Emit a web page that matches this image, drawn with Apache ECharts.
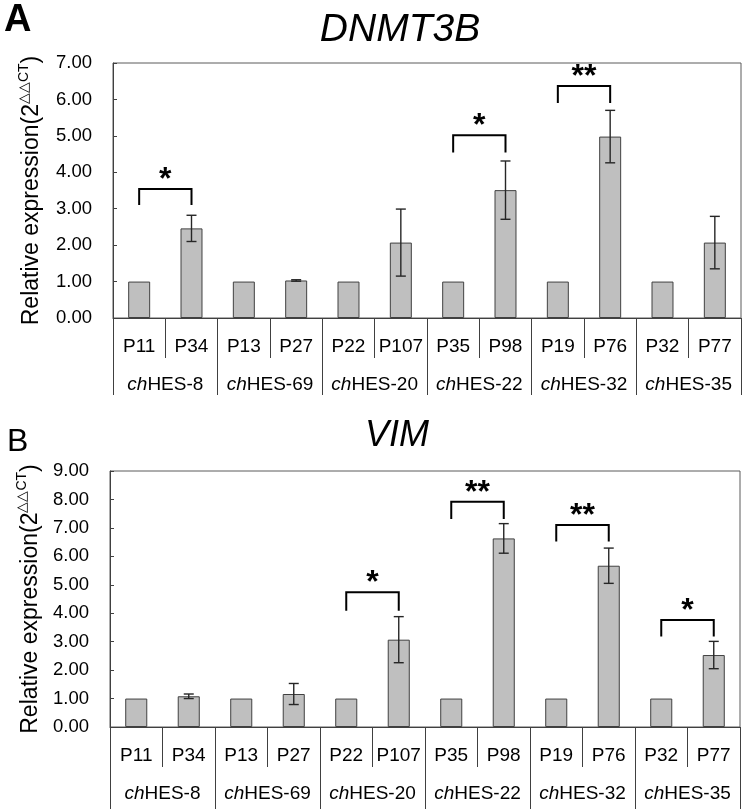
<!DOCTYPE html>
<html>
<head>
<meta charset="utf-8">
<script src="https://cdn.jsdelivr.net/npm/echarts@6/dist/echarts.min.js"></script>
<style>
html,body{margin:0;padding:0;background:#fff;}
#chart{width:746px;height:809px;}
</style>
</head>
<body>
<div id="chart"></div>
<script>
// ---- data ----
var samples = ['P11','P34','P13','P27','P22','P107','P35','P98','P19','P76','P32','P77'];
var groups = ['chHES-8','chHES-69','chHES-20','chHES-22','chHES-32','chHES-35'];

var dnmt3bMean = [1, 2.46, 1, 1.03, 1, 2.07, 1, 3.51, 1, 4.98, 1, 2.07];
var dnmt3bErr  = [0, 0.36, 0, 0.02, 0, 0.92, 0, 0.80, 0, 0.72, 0, 0.72];
var dnmt3bTicks = [0, 7, 1];
// [left sample index, right sample index, bracket top value, leg bottom value, stars]
var dnmt3bSig = [[0, 1, 3.54, 3.10, '*'], [6, 7, 5.02, 4.54, '*'], [8, 9, 6.37, 5.90, '**']];

var vimMean = [1, 1.08, 1, 1.16, 1, 3.07, 1, 6.63, 1, 5.67, 1, 2.53];
var vimErr  = [0, 0.08, 0, 0.37, 0, 0.81, 0, 0.52, 0, 0.62, 0, 0.48];
var vimTicks = [0, 9, 1];
var vimSig = [[4, 5, 4.74, 4.09, '*'], [6, 7, 7.92, 7.31, '**'], [8, 9, 7.10, 6.52, '**'], [10, 11, 3.76, 3.18, '*']];

// ---- styles ----
var FONT = '"Liberation Sans", Arial, sans-serif';
var AX = '#404040';
var FRAME = '#5a5a5a';

var chart = echarts.init(document.getElementById('chart'), null, {renderer: 'canvas'});

function xAxes(gi, groupTickLen) {
  return [{
    type: 'category', gridIndex: gi, data: samples, position: 'bottom',
    axisLine: {show: true, lineStyle: {color: AX, width: 1}},
    axisTick: {show: true, inside: false, length: 40, interval: 0, lineStyle: {color: AX, width: 1}},
    axisLabel: {interval: 0, margin: 19, fontSize: 19, color: '#000', fontFamily: FONT},
    splitLine: {show: false}
  }, {
    type: 'category', gridIndex: gi, data: groups, position: 'bottom', offset: 0,
    axisLine: {show: false},
    axisTick: {show: true, inside: false, length: groupTickLen, interval: 0, lineStyle: {color: AX, width: 1}},
    axisLabel: {interval: 0, margin: 57, fontSize: 19, color: '#000', fontFamily: FONT,
      formatter: function (v) { return '{i|ch}{n|' + v.slice(2) + '}'; },
      rich: {i: {fontStyle: 'italic', fontSize: 19, fontFamily: FONT, color: '#000'},
             n: {fontSize: 19, fontFamily: FONT, color: '#000'}}},
    splitLine: {show: false}
  }];
}

function yAxis(gi, ticks, gap) {
  return {
    type: 'value', gridIndex: gi, min: ticks[0], max: ticks[1], interval: ticks[2],
    name: 'Relative expression(2{sup|△△CT})',
    nameLocation: 'middle', nameRotate: 90, nameGap: gap,
    nameTextStyle: {fontSize: 23, fontFamily: FONT, color: '#000',
      rich: {sup: {fontSize: 14, fontFamily: FONT, color: '#000', padding: [0, 0, 16, 0]}}},
    axisLine: {show: true, lineStyle: {color: AX, width: 1}},
    axisTick: {show: true, inside: true, length: 4, lineStyle: {color: AX}},
    axisLabel: {margin: 21, fontSize: 18.5, color: '#000', fontFamily: FONT,
      formatter: function (v) { return v.toFixed(2); }},
    splitLine: {show: false}
  };
}

function barSeries(xi, yi, mean) {
  return {
    type: 'bar', xAxisIndex: xi, yAxisIndex: yi, data: mean, barWidth: '42%',
    itemStyle: {color: '#bfbfbf', borderColor: AX, borderWidth: 1},
    silent: true, z: 2
  };
}

function errSeries(xi, yi, mean, err) {
  var d = [];
  for (var i = 0; i < mean.length; i++) if (err[i] > 0) d.push([i, mean[i], err[i]]);
  return {
    type: 'custom', xAxisIndex: xi, yAxisIndex: yi, data: d, z: 5, silent: true,
    encode: {x: 0, y: 1},
    renderItem: function (params, api) {
      var x = api.value(0), m = api.value(1), e = api.value(2);
      var hi = api.coord([x, m + e]), lo = api.coord([x, m - e]);
      var w = 5, st = {stroke: '#262626', lineWidth: 1.4};
      return {type: 'group', children: [
        {type: 'line', shape: {x1: hi[0], y1: hi[1], x2: lo[0], y2: lo[1]}, style: st},
        {type: 'line', shape: {x1: hi[0] - w, y1: hi[1], x2: hi[0] + w, y2: hi[1]}, style: st},
        {type: 'line', shape: {x1: lo[0] - w, y1: lo[1], x2: lo[0] + w, y2: lo[1]}, style: st}
      ]};
    }
  };
}

function sigSeries(xi, yi, sig) {
  return {
    type: 'custom', xAxisIndex: xi, yAxisIndex: yi, silent: true, z: 6,
    data: sig.map(function (s) { return [s[0], s[1], s[2], s[3]]; }),
    encode: {x: [0, 1], y: [2, 3]},
    renderItem: function (params, api) {
      var a = api.value(0), b = api.value(1), top = api.value(2), leg = api.value(3);
      var lt = api.coord([a, top]), rt = api.coord([b, top]);
      var lb = api.coord([a, leg]), rb = api.coord([b, leg]);
      return {type: 'group', children: [
        {type: 'polyline', shape: {points: [lb, lt, rt, rb]},
          style: {stroke: '#000', lineWidth: 2, fill: null}},
        {type: 'text', x: (lt[0] + rt[0]) / 2, y: lt[1] + 7,
          style: {text: sig[params.dataIndex][4], fontSize: 32, fontWeight: 'bold',
            fontFamily: FONT, fill: '#000', align: 'center', verticalAlign: 'bottom'}}
      ]};
    }
  };
}

var option = {
  backgroundColor: '#fff',
  animation: false,
  grid: [
    {left: 113, top: 63, right: 5, bottom: 491, show: true, borderColor: FRAME, borderWidth: 1, backgroundColor: 'transparent'},
    {left: 110, top: 471, right: 6, bottom: 82, show: true, borderColor: FRAME, borderWidth: 1, backgroundColor: 'transparent'}
  ],
  xAxis: xAxes(0, 77).concat(xAxes(1, 90)),
  yAxis: [yAxis(0, dnmt3bTicks, 66), yAxis(1, vimTicks, 63)],
  series: [
    barSeries(0, 0, dnmt3bMean), errSeries(0, 0, dnmt3bMean, dnmt3bErr), sigSeries(0, 0, dnmt3bSig),
    barSeries(2, 1, vimMean), errSeries(2, 1, vimMean, vimErr), sigSeries(2, 1, vimSig)
  ],
  graphic: [
    {type: 'text', x: 400, y: 30, style: {text: 'DNMT3B', fontSize: 39, fontStyle: 'italic', fontFamily: FONT, fill: '#000', align: 'center', verticalAlign: 'middle'}},
    {type: 'text', x: 397, y: 436, style: {text: 'VIM', fontSize: 36, fontStyle: 'italic', fontFamily: FONT, fill: '#000', align: 'center', verticalAlign: 'middle'}},
    {type: 'text', x: 4, y: 21, style: {text: 'A', fontSize: 38, fontWeight: 'bold', fontFamily: FONT, fill: '#000', align: 'left', verticalAlign: 'middle'}},
    {type: 'text', x: 7, y: 442, style: {text: 'B', fontSize: 32, fontFamily: FONT, fill: '#000', align: 'left', verticalAlign: 'middle'}}
  ]
};
chart.setOption(option);
</script>
</body>
</html>
